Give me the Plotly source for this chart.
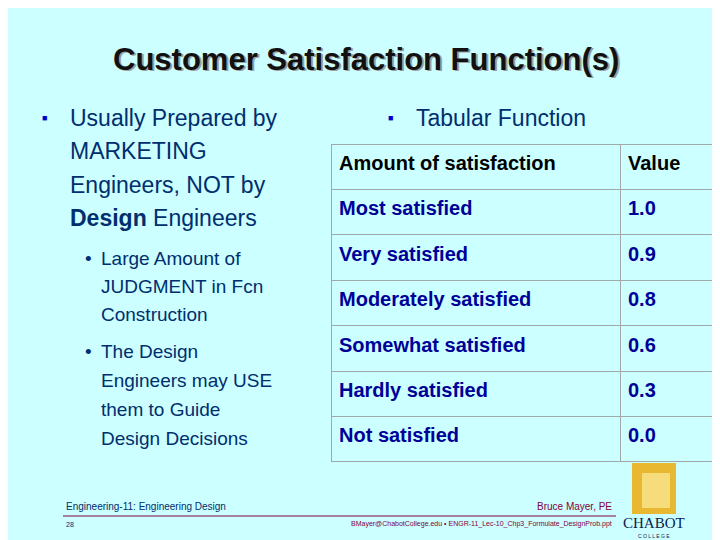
import plotly.graph_objects as go

header = ["Amount of satisfaction", "Value"]
levels = ["Most satisfied", "Very satisfied", "Moderately satisfied",
          "Somewhat satisfied", "Hardly satisfied", "Not satisfied"]
values = ["1.0", "0.9", "0.8", "0.6", "0.3", "0.0"]

BG = "#CCFFFF"
NAVY = "#002E6E"
W, H = 720, 540
FONT = "Arial, 'Liberation Sans', sans-serif"

fig = go.Figure(go.Table(
    domain=dict(x=[323/W, 712/W], y=[0, 1-136/H]),
    columnwidth=[289, 100],
    header=dict(values=["<b>%s</b>" % h for h in header], height=45.4,
                fill_color=BG, line_color="#A0A8A8", align="left",
                font=dict(family=FONT, size=20, color="black")),
    cells=dict(values=[["<b>%s</b>" % l for l in levels], ["<b>%s</b>" % v for v in values]],
               height=45.4, fill_color=BG, line_color="#A0A8A8", align="left",
               font=dict(family=FONT, size=20, color="#000099")),
))

ann = []
def t(x, y, s, size, color=NAVY, xa="left", fam=FONT):
    ann.append(dict(x=x/W, y=1-y/H, xref="paper", yref="paper", text=s, showarrow=False,
                    xanchor=xa, yanchor="middle", font=dict(family=fam, size=size, color=color)))

t(360, 53, "<b>Customer Satisfaction Function(s)</b>", 31, "#9aa0a0", "center")
t(358, 51, "<b>Customer Satisfaction Function(s)</b>", 31, "#111111", "center")
t(32, 110, "■", 9, "#0000CC")
for y, s in [(110, "Usually Prepared by"), (143, "MARKETING"), (177, "Engineers, NOT by"),
             (210, "<b>Design</b> Engineers")]:
    t(60, y, s, 23)
t(378, 110, "■", 9, "#0000CC")
t(406, 110, "Tabular Function", 23)
t(75, 250, "•", 19)
t(75, 343, "•", 19)
for y, s in [(250, "Large Amount of"), (278, "JUDGMENT in Fcn"), (306, "Construction"),
             (343, "The Design"), (372, "Engineers may USE"), (401, "them to Guide"),
             (430, "Design Decisions")]:
    t(91, y, s, 19)
t(56, 498, "Engineering-11: Engineering Design", 10)
t(606, 498, "Bruce Mayer, PE", 10, "#800040", "right")
t(56, 516, "28", 7)
t(606, 516, "BMayer@ChabotCollege.edu • ENGR-11_Lec-10_Chp3_Formulate_DesignProb.ppt", 7, "#800040", "right")
t(646, 515, "CHABOT", 15, "#0A1A4A", "center", "'Liberation Serif', serif")
t(646, 528, "C O L L E G E", 5, "#0A1A4A", "center")

shapes = [
    dict(type="line", xref="paper", yref="paper", x0=55/W, x1=608/W, y0=1-508/H, y1=1-508/H,
         line=dict(color="#800040", width=1)),
    dict(type="rect", xref="paper", yref="paper", x0=624/W, x1=668/W, y0=1-506/H, y1=1-455/H,
         fillcolor="#E8B830", line=dict(width=0)),
    dict(type="rect", xref="paper", yref="paper", x0=634/W, x1=662/W, y0=1-500/H, y1=1-465/H,
         fillcolor="#F6DC7A", line=dict(width=0)),
]

fig.update_layout(width=W, height=H, margin=dict(l=0, r=0, t=0, b=0),
                  paper_bgcolor=BG, plot_bgcolor=BG, annotations=ann, shapes=shapes)
fig.write_html("out.html")
